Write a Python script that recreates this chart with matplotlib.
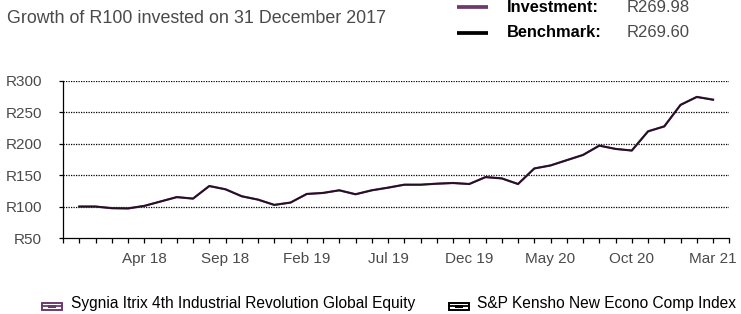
import matplotlib
matplotlib.use("Agg")
import matplotlib.pyplot as plt
from matplotlib.patches import Rectangle
from matplotlib.lines import Line2D

reg_family = ["Liberation Sans", "DejaVu Sans"]

# ---- data ----
months = ["Dec 17", "Jan 18", "Feb 18", "Mar 18", "Apr 18", "May 18", "Jun 18", "Jul 18", "Aug 18", "Sep 18",
          "Oct 18", "Nov 18", "Dec 18", "Jan 19", "Feb 19", "Mar 19", "Apr 19", "May 19", "Jun 19", "Jul 19",
          "Aug 19", "Sep 19", "Oct 19", "Nov 19", "Dec 19", "Jan 20", "Feb 20", "Mar 20", "Apr 20", "May 20",
          "Jun 20", "Jul 20", "Aug 20", "Sep 20", "Oct 20", "Nov 20", "Dec 20", "Jan 21", "Feb 21", "Mar 21"]
benchmark = [100, 100, 97.4, 97, 101, 108, 115, 112.6, 132.6, 127.4,
             116.3, 111, 102.6, 106.3, 120, 121.6, 125.8, 119.5, 125.8, 130,
             134.7, 134.7, 136.3, 137.4, 135.8, 146.8, 144.7, 135.8, 160.5, 165.3,
             173.7, 182, 196.8, 191.6, 189, 219.5, 227.4, 261.6, 274.2, 269.6]
investment = [100, 100, 97.4, 97, 101, 108, 115, 112.6, 132.6, 127.4,
              116.3, 111, 102.6, 106.3, 120, 121.6, 125.8, 119.5, 125.8, 130,
              134.7, 134.7, 136.3, 137.4, 135.8, 146.8, 144.7, 135.8, 160.5, 165.3,
              173.7, 182, 196.8, 191.6, 189, 219.5, 227.4, 261.6, 274.2, 269.98]
tick_labels = ["Apr 18", "Sep 18", "Feb 19", "Jul 19", "Dec 19", "May 20", "Oct 20", "Mar 21"]
y_ticks = [50, 100, 150, 200, 250, 300]
series_names = ["Sygnia Itrix 4th Industrial Revolution Global Equity", "S&P Kensho New Econo Comp Index"]
inv_final = "R269.98"
bm_final = "R269.60"

PURPLE = "#6e3a6e"
BLACK = "#000000"
GREY = "#4a4a4a"

W, H = 741, 314
fig = plt.figure(figsize=(W / 100, H / 100), dpi=100)

def fx(px):
    return px / W

def fy(py):
    return 1 - py / H

ax = fig.add_axes([fx(63), fy(238), fx(729.3) - fx(63), fy(80.7) - fy(238)])
x = list(range(1, len(months) + 1))
ax.plot(x, investment, color=PURPLE, lw=1.6)
ax.plot(x, benchmark, color="#1a0d1a", lw=1.3, alpha=0.9)

ax.set_xlim(0, len(months) + 1)
ax.set_ylim(50, 300)
ax.set_yticks(y_ticks)
ax.set_yticklabels(["R%d" % v for v in y_ticks])
for v in y_ticks[1:]:
    ax.axhline(v, color="black", lw=0.9, ls=(0, (1, 1)), zorder=0)

ax.set_xticks(range(0, len(months) + 2), minor=True)
major_pos = [months.index(m) + 1 for m in tick_labels]
ax.set_xticks(major_pos)
ax.set_xticklabels(tick_labels)
ax.tick_params(axis="x", which="both", length=3.3, width=0.9, direction="out", color="black", labelsize=11,
               labelcolor=GREY, pad=6.5)
ax.tick_params(axis="y", length=3, width=0.9, direction="out", labelsize=11, labelcolor=GREY, pad=12)
for lab in ax.get_xticklabels() + ax.get_yticklabels():
    lab.set_family(reg_family)

for s in ["top", "right"]:
    ax.spines[s].set_visible(False)
ax.spines["left"].set_linewidth(0.9)
ax.spines["bottom"].set_linewidth(0.9)

# header
fig.text(fx(7), fy(23), "Growth of R100 invested on 31 December 2017", fontsize=12.9, color=GREY,
         family=reg_family, va="baseline", ha="left")
fig.add_artist(Line2D([fx(457), fx(488)], [fy(7.3), fy(7.3)], color=PURPLE, lw=2.7, solid_capstyle="butt"))
fig.add_artist(Line2D([fx(457), fx(488)], [fy(32.7), fy(32.7)], color=BLACK, lw=2.7, solid_capstyle="butt"))
fig.text(fx(507), fy(12.3), "Investment:", fontsize=11.8, weight="bold", color="black", family=reg_family,
         va="baseline")
fig.text(fx(507), fy(37.3), "Benchmark:", fontsize=11.8, weight="bold", color="black", family=reg_family,
         va="baseline")
fig.text(fx(627), fy(12.3), inv_final, fontsize=12, color=GREY, family=reg_family, va="baseline")
fig.text(fx(627), fy(37.3), bm_final, fontsize=12, color=GREY, family=reg_family, va="baseline")

# bottom legend
def legend_icon(x0, color):
    w = 20
    fig.add_artist(Rectangle((fx(x0), fy(310.3)), fx(w), fy(302.5) - fy(310.3), fill=False, edgecolor=color,
                             lw=1.4))
    fig.add_artist(Line2D([fx(x0), fx(x0 + w)], [fy(306.4), fy(306.4)], color=color, lw=1.3))
    fig.add_artist(Rectangle((fx(x0 + 6), fy(307.9)), fx(8), fy(304.9) - fy(307.9), facecolor=color,
                             edgecolor="none"))

legend_icon(42, PURPLE)
fig.text(fx(71), fy(307.7), series_names[0], fontsize=11.2, color="black", family=reg_family, va="baseline")
legend_icon(449, BLACK)
fig.text(fx(477), fy(307.7), series_names[1], fontsize=11.2, color="black", family=reg_family, va="baseline")

fig.savefig("out.png", dpi=100)
